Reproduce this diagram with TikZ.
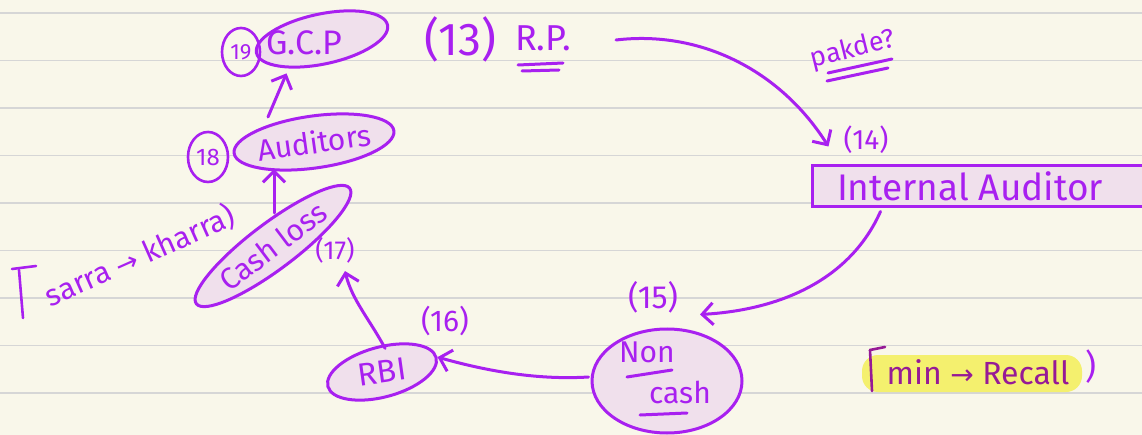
\documentclass[tikz,border=0pt]{standalone}
\usepackage{fontspec}
\setmainfont{Fira Sans}
\newfontfamily\arrowfont{DejaVu Sans}
\usetikzlibrary{shapes.geometric,arrows.meta,calc}

\definecolor{paper}{RGB}{249,247,234}
\definecolor{rule}{RGB}{214,214,214}
\definecolor{ink}{RGB}{168,32,240}
\definecolor{bubble}{RGB}{240,224,236}
\definecolor{marker}{RGB}{244,240,110}
\definecolor{darkink}{RGB}{150,26,150}

\newcommand{\hs}[1]{\fontsize{#1}{#1}\selectfont}

\tikzset{
  pen/.style={draw=ink, line width=3pt, line cap=round, line join=round},
  bubble/.style={ellipse, draw=ink, fill=bubble, line width=3pt, inner sep=0pt},
  tag/.style={ellipse, draw=ink, line width=2.6pt, inner sep=0pt},
  hand/.style={text=ink, inner sep=0pt},
  link/.style={pen, -{Straight Barb[length=11pt,width=22pt]}},
}

\begin{document}
\begin{tikzpicture}[x=1pt,y=-1pt]
  % page and ruled lines
  \fill[paper] (0,0) rectangle (1142,435);
  \useasboundingbox (0,0) rectangle (1142,435);
  \foreach \k in {0,...,8}
    \draw[rule, line width=1.4pt] (0,13+47.5*\k) -- (1142,13+47.5*\k);

  % ---- 19: G.C.P ----
  \node[bubble, minimum width=134pt, minimum height=50pt, rotate=12] (gcp) at (322,39) {};
  \node[hand, font=\hs{34}] (gcptext) at (304,43) {G.C.P};
  \node[tag, minimum width=38pt, minimum height=48pt] (n19) at (241,52) {};
  \node[hand, font=\hs{22}] at (n19) {19};

  % ---- 13: R.P. ----
  \node[hand, font=\hs{46}] (n13) at (460,39) {(13)};
  \node[hand, font=\hs{36}] (rp) at (543,38) {R.P.};
  \draw[pen] (518,65) -- (563,63);
  \draw[pen] (522,71) -- (559,70);

  % pakde?
  \node[hand, font=\hs{27}, rotate=14] (pakde) at (853,50) {pakde?};
  \draw[pen] (828,73) -- (892,59);
  \draw[pen] (827,81) -- (888,68);

  % ---- 14: Internal Auditor ----
  \node[hand, font=\hs{28}] (n14) at (866,140) {(14)};
  \node[draw=ink, fill=bubble, line width=3pt, minimum width=336pt, minimum height=41pt,
        inner sep=0pt, text=ink, font=\hs{37}] (ia) at (980,186.5) {\hspace*{-20pt}Internal Auditor};

  % ---- 15: Non cash ----
  \node[hand, font=\hs{32}] (n15) at (653,297) {(15)};
  \node[bubble, minimum width=150pt, minimum height=104pt] (nc) at (667,381) {};
  \node[hand, font=\hs{30}] (non) at (647,352) {Non};
  \node[hand, font=\hs{30}] (cash) at (680,392) {cash};
  \draw[pen] (627,377) -- (672,370);
  \draw[pen] (640,415) -- (687,413);

  % ---- 16: RBI ----
  \node[hand, font=\hs{30}] (n16) at (445,321) {(16)};
  \node[bubble, minimum width=112pt, minimum height=50pt, rotate=15] (rbi) at (382,372) {};
  \node[hand, font=\hs{32}, rotate=8] at (rbi) {RBI};

  % ---- 17: Cash loss ----
  \node[hand, font=\hs{26}] (n17) at (335,250) {(17)};
  \node[bubble, minimum width=192pt, minimum height=46pt, rotate=37, text=ink, font=\hs{30}]
       (cl) at (273,246) {Cash loss};

  % ---- 18: Auditors ----
  \node[bubble, minimum width=160pt, minimum height=52pt, rotate=8, text=ink, font=\hs{30}]
       (aud) at (314,142) {Auditors};
  \node[tag, minimum width=40pt, minimum height=50pt] (n18) at (208,157) {};
  \node[hand, font=\hs{24}] at (n18) {18};

  % side notes
  \draw[pen, line width=2.6pt] (12,269) -- (36,266);
  \draw[pen, line width=2.6pt] (19,270) -- (23,318);
  \node[hand, font=\hs{30}, rotate=24] (sk) at (140,256) {sarra {\arrowfont\hs{27}→} kharra)};

  \fill[marker, rounded corners=16pt] (862,355) rectangle (1082,392);
  \draw[draw=darkink, line width=2.6pt, line cap=round] (870,350) -- (885,347);
  \draw[draw=darkink, line width=2.6pt, line cap=round] (870,350) -- (872,391);
  \node[text=darkink, inner sep=0pt, font=\hs{32}] (recall) at (978,372) {min {\arrowfont\hs{28}→} Recall};
  \node[hand, font=\hs{34}] at (1091,367) {)};

  % ---- connectors ----
  \draw[link] ($(rp.east)+(45,2)$) .. controls (700,30) and (780,70) .. ($(ia.north west)+(18,-18)$);
  \draw[link] ($(ia.south west)+(70,3)$) .. controls (850,280) and (780,310) .. ($(nc.north)+(33,-13)$);
  \draw[link] ($(nc.west)+(-2,-4)$) .. controls (540,380) and (490,372) .. (rbi.east);
  \draw[link] ($(rbi.north)+(10,2)$) .. controls (370,320) and (352,300) .. ($(n17.south)+(10,8)$);
  \draw[link] (274,213) -- (aud.south -| 274,213);
  \draw[link] (268,117) -- ($(gcp.south west)+(8,6)$);
\end{tikzpicture}
\end{document}
